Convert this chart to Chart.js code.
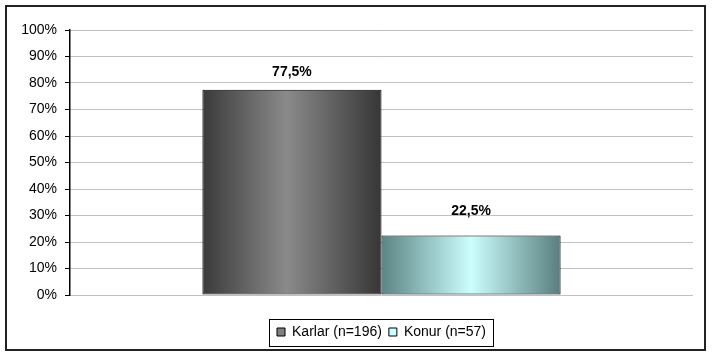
<!DOCTYPE html>
<html>
<head>
<meta charset="utf-8">
<script src="https://cdn.jsdelivr.net/npm/chart.js@4.4.1/dist/chart.umd.min.js"></script>
<style>
    html, body { margin: 0; padding: 0; background: #fff; }
    canvas { display: block; }
</style>
</head>
<body>
<canvas id="genderChart" width="713" height="359"></canvas>
<script>
// chart data
const categories = [''];
const seriesNames = ['Karlar (n=196)', 'Konur (n=57)'];
const karlarValues = [77.5];
const konurValues = [22.5];
const legendColors = ['#808080', '#ccffff'];

// horizontal gradient stops per series (dark edges, light middle)
const gradientStops = [
    [[0, '#3a3a3a'], [0.47, '#8a8a8a'], [1, '#363636']],
    [[0, '#5c8484'], [0.5, '#ccfefe'], [1, '#587e7e']]
];
// distance of the value label above each series' bar
const labelGap = [17, 24];

const FONT = "'Liberation Sans', Arial, sans-serif";

// Paint each bar with its gradient once geometry is known
const barGradients = {
    id: 'barGradients',
    beforeDatasetsDraw(chart) {
        const ctx = chart.ctx;
        chart.data.datasets.forEach((ds, i) => {
            chart.getDatasetMeta(i).data.forEach(bar => {
                const left = bar.x - bar.width / 2;
                const g = ctx.createLinearGradient(left, 0, left + bar.width, 0);
                gradientStops[i].forEach(([pos, col]) => g.addColorStop(pos, col));
                bar.options.backgroundColor = g;
            });
        });
    }
};

// Value labels above the bars, e.g. "77,5%"
const valueLabels = {
    id: 'valueLabels',
    afterDatasetsDraw(chart) {
        const ctx = chart.ctx;
        ctx.save();
        ctx.font = 'bold 14px ' + FONT;
        ctx.fillStyle = '#000';
        ctx.textAlign = 'center';
        ctx.textBaseline = 'middle';
        chart.data.datasets.forEach((ds, i) => {
            chart.getDatasetMeta(i).data.forEach((bar, j) => {
                const text = String(ds.data[j]).replace('.', ',') + '%';
                ctx.fillText(text, bar.x, bar.y - labelGap[i]);
            });
        });
        ctx.restore();
    }
};

// Outer frame and the box round the legend
const frames = {
    id: 'frames',
    afterDraw(chart) {
        const ctx = chart.ctx;
        ctx.save();
        ctx.strokeStyle = '#222';
        ctx.lineWidth = 2;
        ctx.strokeRect(6, 6, 699, 344);

        const boxes = chart.legend.legendHitBoxes;
        if (boxes && boxes.length) {
            const first = boxes[0];
            const last = boxes[boxes.length - 1];
            const l = first.left - 8;
            const r = last.left + last.width + 7;
            const t = first.top - 6;
            const b = first.top + first.height + 7;
            ctx.lineWidth = 1;
            ctx.strokeStyle = '#000';
            ctx.strokeRect(Math.round(l) + 0.5, Math.round(t) + 0.5, Math.round(r - l), Math.round(b - t));
        }
        ctx.restore();
    }
};

new Chart(document.getElementById('genderChart'), {
    type: 'bar',
    data: {
        labels: categories,
        datasets: [{
            label: seriesNames[0],
            data: karlarValues,
            backgroundColor: '#808080',
            borderColor: '#000',
            borderWidth: 1,
            borderSkipped: false
        }, {
            label: seriesNames[1],
            data: konurValues,
            backgroundColor: '#ccffff',
            borderColor: '#000',
            borderWidth: 1,
            borderSkipped: false
        }]
    },
    options: {
        responsive: false,
        animation: false,
        categoryPercentage: 0.575,
        barPercentage: 1,
        layout: {
            padding: { left: 0, right: 20, top: 30, bottom: 10 }
        },
        plugins: {
            tooltip: { enabled: false },
            legend: {
                position: 'bottom',
                fullSize: false,
                labels: {
                    font: { family: FONT, size: 14 },
                    color: '#000',
                    boxWidth: 8,
                    boxHeight: 8,
                    padding: 7,
                    generateLabels(chart) {
                        return chart.data.datasets.map((ds, i) => ({
                            text: ds.label,
                            fillStyle: legendColors[i],
                            strokeStyle: '#000',
                            lineWidth: 1,
                            fontColor: '#000',
                            datasetIndex: i
                        }));
                    }
                }
            }
        },
        scales: {
            x: {
                grid: { display: false },
                border: { display: false },
                ticks: { display: false },
                afterFit(scale) { scale.height = 23; }
            },
            y: {
                min: 0,
                max: 100,
                ticks: {
                    stepSize: 10,
                    padding: 8,
                    color: '#000',
                    font: { family: FONT, size: 14 },
                    callback: v => v + '%'
                },
                grid: {
                    color: '#c0c0c0',
                    tickColor: '#000',
                    tickLength: 5
                },
                border: { color: '#000', width: 1.5 },
                afterFit(scale) { scale.width = 70; }
            }
        }
    },
    plugins: [barGradients, valueLabels, frames]
});
</script>
</body>
</html>
